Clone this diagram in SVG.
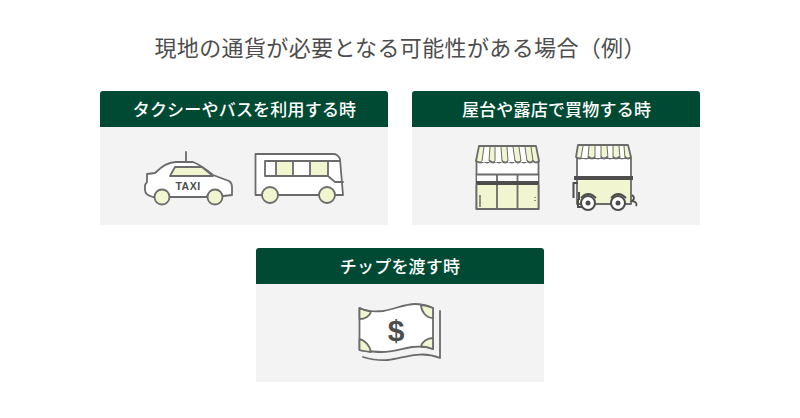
<svg xmlns="http://www.w3.org/2000/svg" width="800" height="418" viewBox="0 0 800 418">
<style>
text{font-family:"Noto Sans CJK JP","Noto Sans",sans-serif}
.t{font-size:22px;fill:#4d4d4d;text-anchor:middle}
.h{font-size:17px;font-weight:500;letter-spacing:.2px;fill:#fff;text-anchor:middle}
.b{fill:#f3f3f3}.g{fill:#004a33}
.l{stroke:#6b6b6b;stroke-width:1.800;fill:#fff;stroke-linejoin:round;stroke-linecap:round}
.y{fill:#f2f6d0}.n{fill:none}
</style>
<rect width="800" height="418" fill="#fff"/>
<text class="t" x="400" y="56" textLength="491" lengthAdjust="spacing">現地の通貨が必要となる可能性がある場合（例）</text>
<g id="card-transport">
<rect class="b" x="100" y="120" width="288" height="105"/>
<path class="g" d="M100 127V94a3 3 0 0 1 3-3H385a3 3 0 0 1 3 3V127Z"/>
<text class="h" x="244.500" y="116">タクシーやバスを利用する時</text>
<g id="taxi">
<path class="l n" d="M186 152V162"/>
<path class="l" d="M155 173C162 166 168 162 176 162H193C201 165 207 170 213 175L229 181Q232 183 232 187V195L223 196H207V197H170L153 197Q145 195 145 190V185L147 182V174Z"/>
<path class="l y" d="M175 167H202L213 176H170Z"/>
<circle class="l y" cx="162" cy="197" r="7.500"/><circle class="l y" cx="215" cy="197" r="7.500"/>
<text x="188" y="190" font-size="10.500" font-weight="700" fill="#4d4d4d" text-anchor="middle" letter-spacing=".5" style="font-family:'Liberation Sans',sans-serif">TAXI</text>
</g>
<g id="bus">
<path class="l" d="M255.500 154H333Q338 154 340 159L343 195H255.500Z"/>
<rect class="y" x="276" y="161" width="17" height="15"/><rect class="y" x="310" y="161" width="18" height="15"/>
<path class="l n" d="M340 161H265V176H328L335 182H343M276 161V176M293 161V176M310 161V176M328 161V176"/>
<circle class="l y" cx="270" cy="195" r="8"/><circle class="l y" cx="327" cy="195" r="8"/>
</g>
</g>
<g id="card-stall">
<rect class="b" x="412" y="120" width="288" height="105"/>
<path class="g" d="M412 127V94a3 3 0 0 1 3-3H697a3 3 0 0 1 3 3V127Z"/>
<text class="h" x="556.500" y="116">屋台や露店で買物する時</text>
<g id="shop">
<rect class="l" x="476.500" y="160" width="62" height="49"/>
<rect class="y" x="477" y="185" width="61" height="24"/>
<rect x="477" y="175" width="61" height="6" fill="#fff"/>
<path class="l n" d="M476.500 174.500H538.500M497 175V209M517.500 175V209"/>
<rect x="476" y="181" width="63" height="4" fill="#4d4d4d"/>
<path class="l n" d="M476.500 185V209H538.500V185"/>
<path d="M480 195V207" stroke="#4d4d4d" stroke-width="1.200"/>
<path d="M535 197v1M535 200v1" stroke="#4d4d4d" stroke-width="1.200"/>
<path class="l y" d="M479 146H536L539 161Q536 164 533 161Q530 164 527 161Q524 164 521 161Q518 164 515 161Q512 164 508.500 161Q505 164 502 161Q499 164 496 161Q493 164 490 161Q487 164 484 161Q481 164 476 161Z"/>
<path d="M484 147L482 162H489L490 147ZM495 147L495 162H502L501 147ZM507 147L508 162H515L513 147ZM519 147L521 162H527L525 147Z" fill="#fff"/>
<path class="n" stroke="#6b6b6b" stroke-width="1" d="M484 147L482 161M490 147L489 161M495 147L495 161M501 147L502 161M507 147L508 161M513 147L515 161M519 147L521 161M525 147L527 161M531 147L533 161"/>
</g>
<g id="cart">
<rect class="l" x="577" y="158" width="54" height="20"/>
<rect class="l y" x="577" y="179" width="54" height="25"/>
<path d="M574 178H633" stroke="#4d4d4d" stroke-width="4"/>
<path class="l y" d="M578 145H628L631 157Q628 160 625 157Q622 160 619 157Q616 160 613 157Q610 160 607 157Q604 160 601 157Q598 160 595 157Q592 160 589 157Q586 160 583 157Q580 160 576 157Z"/>
<path d="M583 146L581 158H588L589 146ZM595 146V158H601V146ZM607 146L608 158H613V146ZM619 146L620 158H625L624 146Z" fill="#fff"/>
<path class="n" stroke="#6b6b6b" stroke-width="1" d="M583 146L581 158M589 146L588 158M595 146V158M601 146V158M607 146L608 158M613 146V158M619 146L620 158M624 146L625 158"/>
<path class="n" stroke="#4d4d4d" stroke-width="2" d="M578 183H573.500V198M578 199V207H582M579 192V200"/>
<path class="n" stroke="#4d4d4d" stroke-width="1.800" d="M581 198Q588 190 596 198M611 198Q618 190 626 198M632 195Q636 198 632 201Q638 202 636 206"/>
<circle cx="588" cy="203" r="7" fill="#fff" stroke="#4d4d4d" stroke-width="2"/><circle cx="588" cy="203" r="2.500" fill="#4d4d4d"/>
<circle cx="618" cy="203" r="7" fill="#fff" stroke="#4d4d4d" stroke-width="2"/><circle cx="618" cy="203" r="2.500" fill="#4d4d4d"/>
</g>
</g>
<g id="card-tip">
<rect class="b" x="256" y="277" width="288" height="105"/>
<path class="g" d="M256 284V251a3 3 0 0 1 3-3H541a3 3 0 0 1 3 3V284Z"/>
<text class="h" x="400" y="273">チップを渡す時</text>
<g id="bill">
<path class="l n" d="M440 311V358C420 350 405 358 388 360C378 361 370 359 363 357"/>
<path class="l" d="M359.500 308C368 312 375 312 383 311C395 309 405 304 415 304C422 304 428 306 433 308V349C428 347 420 346 412 347C400 349 392 352 382 352C375 352 367 351 359.500 350Z"/>
<path class="l y" d="M359.500 308C363 310 367 311 371 311.500C370 316 365 319 359.500 319ZM433 308C428 306 424 305 421 305C421 311 426 318 433 318ZM433 349C428 347 424 346.500 421 346.500C422 342 427 338 433 338ZM359.500 350C363 351 367 351.500 371 352C370 346 365 340 359.500 339Z"/>
<text x="396" y="341" font-size="30" font-weight="700" fill="#4d4d4d" text-anchor="middle" style="font-family:'Liberation Sans',sans-serif">$</text>
</g>
</g>
</svg>
